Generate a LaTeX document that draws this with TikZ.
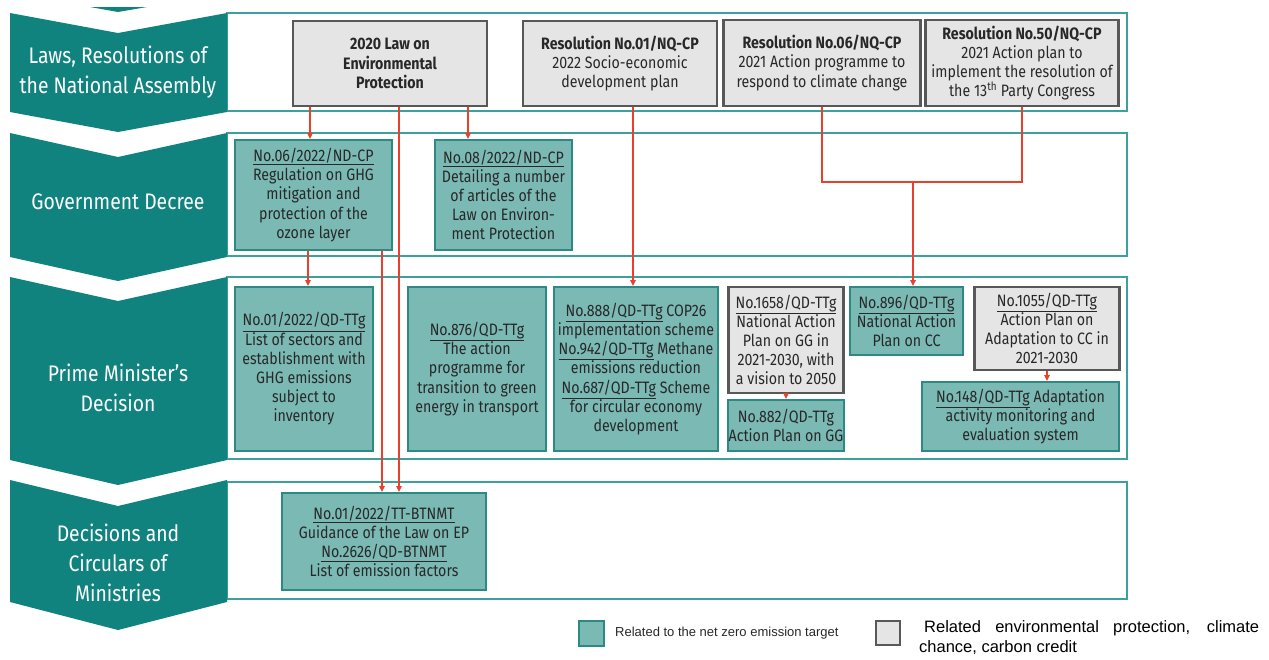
\documentclass[tikz,border=0pt]{standalone}
\usepackage{fontspec}
\setmainfont{Fira Sans}[FakeStretch=0.86]
\newfontfamily\keyfont{Liberation Sans}
\usetikzlibrary{arrows.meta,calc}

\definecolor{chevteal}{RGB}{16,131,127}
\definecolor{rowteal}{RGB}{60,160,156}
\definecolor{boxteal}{RGB}{122,185,180}
\definecolor{edgeteal}{RGB}{44,138,133}
\definecolor{boxgrey}{RGB}{229,229,229}
\definecolor{edgegrey}{RGB}{88,88,88}
\definecolor{linkred}{RGB}{232,64,44}
\definecolor{txt}{RGB}{40,40,40}

\begin{document}
\begin{tikzpicture}[x=1pt,y=-1pt,
  chev/.style={fill=chevteal},
  lvl/.style={text=white,align=center,font=\fontsize{22.5}{30}\selectfont},
  row/.style={draw=rowteal,line width=2pt},
  doc/.style={align=center,text=txt,inner sep=0pt,font=\fontsize{16.5}{19.2}\selectfont},
  nz/.style={doc,fill=boxteal,draw=edgeteal,line width=2pt},
  env/.style={doc,fill=boxgrey,draw=edgegrey,line width=2.5pt},
  link/.style={draw=linkred,line width=1.8pt},
  arr/.style={link,-{Triangle[length=6pt,width=5.5pt]}}]
\useasboundingbox (0,0) rectangle (1269,659);

% rows
\draw[row] (227,13) rectangle (1127,111);
\draw[row] (227,133) rectangle (1127,256);
\draw[row] (227,277) rectangle (1127,459);
\draw[row] (227,482) rectangle (1127,599);

% chevrons
\fill[chev] (90,7) -- (147,7) -- (118,12) -- cycle;
\fill[chev] (10,13) -- (118,33) -- (227,13) -- (227,112) -- (118,132) -- (10,112) -- cycle;
\fill[chev] (10,133) -- (118,157) -- (227,133) -- (227,257) -- (118,281) -- (10,257) -- cycle;
\fill[chev] (10,277) -- (118,301) -- (227,277) -- (227,460) -- (118,485) -- (10,460) -- cycle;
\fill[chev] (10,480) -- (118,506) -- (227,480) -- (227,602) -- (118,630) -- (10,602) -- cycle;

\node[lvl] (assembly) at (118,72) {Laws, Resolutions of\\the National Assembly};
\node[lvl] (decree) at (118,202) {Government Decree};
\node[lvl] (pm) at (118,388) {Prime Minister's\\Decision};
\node[lvl] (ministry) at (118,563) {Decisions and\\Circulars of\\Ministries};

% laws and resolutions
\node[env,minimum width=194,minimum height=85] (law) at (390,63.5) {\textbf{2020 Law on}\\\textbf{Environmental}\\\textbf{Protection}};
\node[env,minimum width=194,minimum height=85] (res01) at (620,63.5) {\textbf{Resolution No.01/NQ-CP}\\2022 Socio-economic\\development plan};
\node[env,minimum width=197,minimum height=86] (res06) at (822,63) {\textbf{Resolution No.06/NQ-CP}\\2021 Action programme to\\respond to climate change};
\node[env,minimum width=193,minimum height=86] (res50) at (1022,63) {\textbf{Resolution No.50/NQ-CP}\\2021 Action plan to\\implement the resolution of\\the 13\textsuperscript{th} Party Congress};

% decrees
\node[nz,minimum width=157,minimum height=110] (nd06) at (313.5,195) {\underline{No.06/2022/ND-CP}\\Regulation on GHG\\mitigation and\\protection of the\\ozone layer};
\node[nz,minimum width=137,minimum height=110] (nd08) at (503.5,195) {\underline{No.08/2022/ND-CP}\\Detailing a number\\of articles of the\\Law on Environ-\\ment Protection};

% prime minister's decisions
\node[nz,minimum width=138,minimum height=164] (qd01) at (304,369) {\underline{No.01/2022/QD-TTg}\\List of sectors and\\establishment with\\GHG emissions\\subject to\\inventory};
\node[nz,minimum width=138,minimum height=164] (qd876) at (477,369) {\underline{No.876/QD-TTg}\\The action\\programme for\\transition to green\\energy in transport};
\node[nz,minimum width=164,minimum height=164] (qd888) at (636,369) {\underline{No.888/QD-TTg} COP26\\implementation scheme\\\underline{No.942/QD-TTg} Methane\\emissions reduction\\\underline{No.687/QD-TTg} Scheme\\for circular economy\\development};
\node[env,minimum width=115,minimum height=106] (qd1658) at (786,340) {\underline{No.1658/QD-TTg}\\National Action\\Plan on GG in\\2021-2030, with\\a vision to 2050};
\node[nz,minimum width=116,minimum height=51] (qd882) at (786,425.5) {No.882/QD-TTg\\Action Plan on GG};
\node[nz,minimum width=113,minimum height=68] (qd896) at (906.5,321) {\underline{No.896/QD-TTg}\\National Action\\Plan on CC};
\node[env,minimum width=145,minimum height=83] (qd1055) at (1047,328.5) {\underline{No.1055/QD-TTg}\\Action Plan on\\Adaptation to CC in\\2021-2030};
\node[nz,minimum width=197,minimum height=69] (qd148) at (1020.5,416.5) {\underline{No.148/QD-TTg} Adaptation\\activity monitoring and\\evaluation system};

% ministries
\node[nz,minimum width=204,minimum height=97] (tt01) at (384,541.5) {\underline{No.01/2022/TT-BTNMT}\\Guidance of the Law on EP\\\underline{No.2626/QD-BTNMT}\\List of emission factors};

% links
\coordinate (lawa) at ($(law.south)+(-80,0)$);
\coordinate (lawb) at ($(law.south)+(9,0)$);
\coordinate (lawc) at ($(law.south)+(78,0)$);
\coordinate (nda) at ($(nd06.south)+(-5.5,0)$);
\coordinate (ndb) at ($(nd06.south)+(68.5,0)$);
\coordinate (resa) at ($(res01.south)+(13,0)$);
\coordinate (join) at (913,182);
\draw[arr] (lawa) -- (lawa |- nd06.north);
\draw[arr] (lawc) -- (lawc |- nd08.north);
\draw[arr] (lawb) -- (lawb |- tt01.north);
\draw[arr] (ndb) -- (ndb |- tt01.north);
\draw[arr] (nda) -- (nda |- qd01.north);
\draw[arr] (resa) -- (resa |- qd888.north);
\draw[link] (res06.south) |- (join) -| (res50.south);
\draw[arr] (join) -- (join |- qd896.north);
\draw[arr] (qd1658.south) -- (qd1658.south |- qd882.north);
\draw[arr] (qd1055.south) -- (qd1055.south |- qd148.north);

% legend
\node[nz,minimum width=25,minimum height=25] (keynz) at (591,633) {};
\node[anchor=west,inner sep=0pt,text=txt,font=\keyfont\fontsize{13}{15}\selectfont] (keynztext) at (615,633) {Related to the net zero emission target};
\node[env,minimum width=24,minimum height=24] (keyenv) at (888,633) {};
\node[anchor=north west,inner sep=0pt,text width=340,align=justify,font=\keyfont\fontsize{16.5}{20}\selectfont] (keyenvtext) at (919,620) {\hspace*{5pt}Related environmental protection, climate\linebreak chance, carbon credit};
\end{tikzpicture}
\end{document}
